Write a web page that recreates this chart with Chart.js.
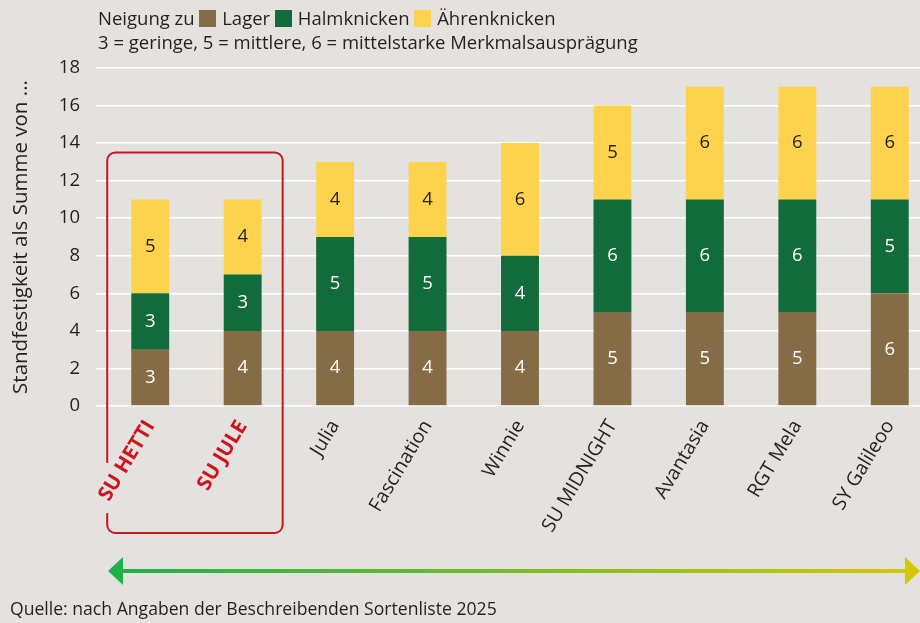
<!DOCTYPE html>
<html lang="de">
<head>
<meta charset="utf-8">
<title>Standfestigkeit</title>
<script src="https://cdn.jsdelivr.net/npm/chart.js@4"></script>
<style>
  html, body { margin: 0; padding: 0; }
  body {
    width: 920px; height: 623px; overflow: hidden; position: relative;
    background: #e4e2df;
    font-family: "Open Sans", sans-serif; color: #231f20;
  }
  #wrap { position: absolute; left: 0; top: 0; width: 940px; height: 623px; }
  .head { position: absolute; left: 98px; font-size: 18.5px; line-height: 22px; white-space: nowrap; }
  .sw { display: inline-block; width: 17px; height: 17px; vertical-align: -2px; margin: 0 1px 0 0; }
  #src { position: absolute; left: 10px; top: 596px; font-size: 17.6px; white-space: nowrap; }
</style>
</head>
<body>
<div id="wrap"><canvas id="chart" width="940" height="623"></canvas></div>
<div class="head" style="top:7px">Neigung zu <span class="sw" style="background:#856c47"></span> Lager <span class="sw" style="background:#116b3a"></span> Halmknicken <span class="sw" style="background:#fdd24c"></span> Ährenknicken</div>
<div class="head" style="top:31px">3 = geringe, 5 = mittlere, 6 = mittelstarke Merkmalsausprägung</div>
<div id="src">Quelle: nach Angaben der Beschreibenden Sortenliste 2025</div>
<script>
// Sorten und Merkmalsausprägungen
const sorten = ['SU HETTI', 'SU JULE', 'Julia', 'Fascination', 'Winnie', 'SU MIDNIGHT', 'Avantasia', 'RGT Mela', 'SY Galileoo'];
const lager = [3, 4, 4, 4, 4, 5, 5, 5, 6];
const halmknicken = [3, 3, 5, 5, 4, 6, 6, 6, 5];
const aehrenknicken = [5, 4, 4, 4, 6, 5, 6, 6, 6];
const yTicks = [0, 2, 4, 6, 8, 10, 12, 14, 16, 18];

const brown = '#856c47';
const green = '#116b3a';
const yellow = '#fdd24c';
const red = '#cf1420';
const dark = '#231f20';

// Zahlen in die Balken schreiben
const valueLabels = {
  id: 'valueLabels',
  afterDatasetsDraw(chart) {
    const ctx = chart.ctx;
    ctx.save();
    ctx.font = '18.5px "Open Sans"';
    ctx.textAlign = 'center';
    ctx.textBaseline = 'middle';
    chart.data.datasets.forEach((ds, i) => {
      ctx.fillStyle = i === 2 ? dark : '#ffffff';
      chart.getDatasetMeta(i).data.forEach((bar, j) => {
        ctx.fillText(String(ds.data[j]), bar.x, (bar.y + bar.base) / 2);
      });
    });
    ctx.restore();
  }
};

// roter Rahmen um die beiden SU-Sorten + Pfeil unten
const extras = {
  id: 'extras',
  beforeDatasetsDraw(chart) {
    const ctx = chart.ctx;
    const x = chart.scales.x, y = chart.scales.y;
    const l = x.getPixelForValue(0) - 43;
    const r = x.getPixelForValue(1) + 40;
    const t = y.getPixelForValue(13.5);
    const b = 533;
    const rad = 8;
    // links eine Lücke, wo "SU HETTI" über den Rahmen läuft
    const gapTop = 463, gapBottom = 513;
    ctx.save();
    ctx.strokeStyle = red;
    ctx.lineWidth = 2;
    ctx.beginPath();
    ctx.moveTo(l, gapTop);
    ctx.lineTo(l, t + rad);
    ctx.arcTo(l, t, l + rad, t, rad);
    ctx.lineTo(r - rad, t);
    ctx.arcTo(r, t, r, t + rad, rad);
    ctx.lineTo(r, b - rad);
    ctx.arcTo(r, b, r - rad, b, rad);
    ctx.lineTo(l + rad, b);
    ctx.arcTo(l, b, l, b - rad, rad);
    ctx.lineTo(l, gapBottom);
    ctx.stroke();
    ctx.restore();
  },
  afterDraw(chart) {
    const ctx = chart.ctx;
    const x0 = 108, x1 = 920, yy = 571;
    const g = ctx.createLinearGradient(x0, 0, x1, 0);
    g.addColorStop(0, '#1cb04b');
    g.addColorStop(1, '#d6c800');
    ctx.save();
    ctx.fillStyle = g;
    ctx.fillRect(x0 + 10, yy - 2, x1 - x0 - 20, 4);
    ctx.beginPath();
    ctx.moveTo(x0, yy); ctx.lineTo(x0 + 15, yy - 14); ctx.lineTo(x0 + 15, yy + 14); ctx.closePath();
    ctx.moveTo(x1, yy); ctx.lineTo(x1 - 15, yy - 14); ctx.lineTo(x1 - 15, yy + 14); ctx.closePath();
    ctx.fill();
    ctx.restore();
  }
};

new Chart(document.getElementById('chart'), {
  type: 'bar',
  data: {
    labels: sorten,
    datasets: [
      { label: 'Lager', data: lager, backgroundColor: brown },
      { label: 'Halmknicken', data: halmknicken, backgroundColor: green },
      { label: 'Ährenknicken', data: aehrenknicken, backgroundColor: yellow }
    ]
  },
  options: {
    responsive: false,
    animation: false,
    layout: { padding: { top: 68, right: 4, left: 0, bottom: 0 } },
    barPercentage: 0.41,
    categoryPercentage: 1,
    plugins: { legend: { display: false }, tooltip: { enabled: false } },
    scales: {
      x: {
        stacked: true,
        grid: { display: false },
        border: { display: false },
        ticks: {
          autoSkip: false,
          minRotation: 59,
          maxRotation: 59,
          padding: 2,
          color: (c) => c.index < 2 ? red : dark,
          font: (c) => c.index < 2
            ? { family: '"Open Sans"', size: 20.5, weight: 'bold' }
            : { family: '"Open Sans"', size: 19.5 }
        },
        afterFit(s) { s.height = 217; }
      },
      y: {
        stacked: true,
        min: 0,
        max: 18,
        afterBuildTicks(s) { s.ticks = yTicks.map(v => ({ value: v })); },
        grid: { color: '#ffffff', lineWidth: 1.5, tickLength: 8 },
        border: { display: false },
        ticks: { padding: 16, color: dark, font: { family: '"Open Sans"', size: 18.5 } },
        title: {
          display: true,
          text: 'Standfestigkeit als Summe von ...',
          color: dark,
          font: { family: '"Open Sans"', size: 20.5 },
          padding: { top: 9, bottom: 0 }
        },
        afterFit(s) { s.width = 104; }
      }
    }
  },
  plugins: [valueLabels, extras]
});
</script>
</body>
</html>
